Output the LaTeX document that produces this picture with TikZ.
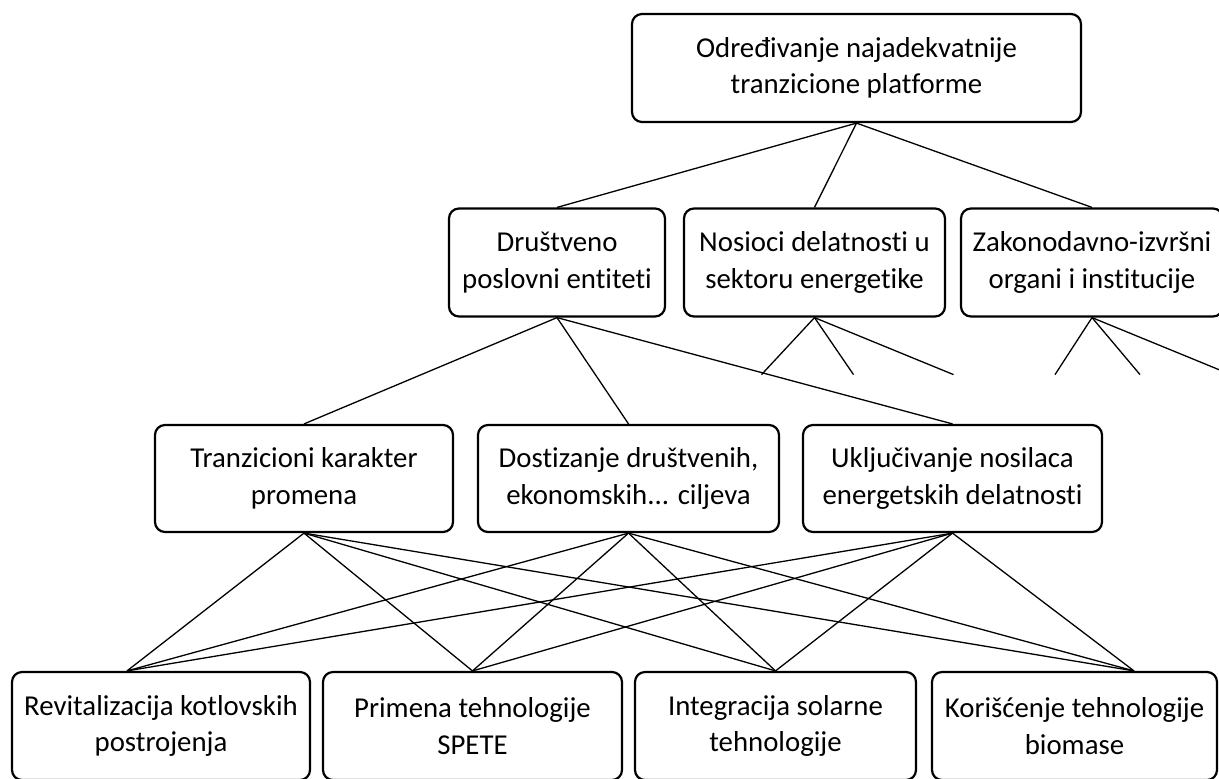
\documentclass[tikz,border=0pt]{standalone}
\usepackage{fontspec}
\setmainfont{Carlito}[Ligatures={NoCommon}]
\usetikzlibrary{calc}

\tikzset{
  box/.style={draw, line width=1.1pt, rounded corners=5pt, align=center,
    inner sep=1pt, minimum height=54pt, font=\fontsize{14.4}{18.2}\selectfont},
  link/.style={line width=0.65pt}
}

\begin{document}
\begin{tikzpicture}[x=0.5pt,y=-0.5pt]
        \clip (0,0) rectangle (1219,778);

        % 1. Goal
        \node[box, minimum width=224.5pt] (goal) at (856.5,68) {Određivanje najadekvatnije\\tranzicione platforme};

        % 2. Actors
        \node[box, minimum width=108pt] (soc) at (557,262.5) {Društveno\\poslovni entiteti};
        \node[box, minimum width=130.5pt] (nos) at (814.5,262.5) {Nosioci delatnosti u\\sektoru energetike};
        \node[box, minimum width=131pt] (zak) at (1092,262.5) {Zakonodavno-izvršni\\organi i institucije};

        % 3. Criteria
        \node[box, minimum width=149pt, minimum height=53.5pt] (tra) at (304,478.5) {Tranzicioni karakter\\promena};
        \node[box, minimum width=150.5pt, minimum height=53.5pt] (dos) at (628.5,478.5) {Dostizanje društvenih,\\ekonomskih... ciljeva};
        \node[box, minimum width=149.5pt, minimum height=53.5pt] (ukl) at (952.5,478.5) {Uključivanje nosilaca\\energetskih delatnosti};

        % 4. Alternatives
        \node[box, minimum width=149pt] (rev) at (161,726) {Revitalizacija kotlovskih\\postrojenja};
        \node[box, minimum width=149.5pt] (spe) at (472.5,726) {Primena tehnologije\\SPETE};
        \node[box, minimum width=140.5pt] (sol) at (775.5,726) {Integracija solarne\\tehnologije};
        \node[box, minimum width=142.5pt] (bio) at (1074.5,726) {Korišćenje tehnologije\\biomase};

        % 5. Goal to actors
        \foreach \n in {soc,nos,zak}
            \draw[link] (goal.south) -- (\n.north);

        % 6. Actor to criteria
        \foreach \n in {tra,dos,ukl}
            \draw[link] (soc.south) -- (\n.north);

        % 7. Open branches below the other actors
        \foreach \dx/\k in {-53/1, 39/2, 139/3}
            \coordinate (nos\k) at ($(nos.south)+(\dx,57)$);
        \foreach \dx/\k in {-37/1, 48/2, 139/3}
            \coordinate (zak\k) at ($(zak.south)+(\dx,57)$);
        \foreach \k in {1,2,3} {
            \draw[link] (nos.south) -- (nos\k);
            \draw[link] (zak.south) -- (zak\k);
        }

        % 8. Criteria to alternatives
        \coordinate (revin) at ($(rev.north)+(-34,0)$);
        \coordinate (bioin) at ($(bio.north)+(59.5,0)$);
        \foreach \a in {tra,dos,ukl}
            \foreach \b in {revin,spe.north,sol.north,bioin}
                \draw[link] (\a.south) -- (\b);
    \end{tikzpicture}
\end{document}
